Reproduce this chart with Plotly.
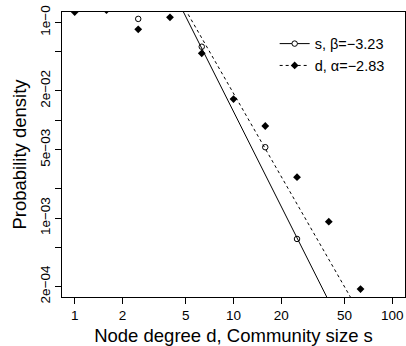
import numpy as np
import plotly.graph_objects as go

# Data (log-binned densities)
bins_d = [1.0, 1.585, 2.512, 3.981, 6.310, 10.0, 15.85, 25.12, 39.81, 63.10]
dens_d = [0.128, 0.134, 0.0853, 0.113, 0.0485, 0.0165, 0.00875, 0.00262, 0.00092, 0.000188]
bins_s = [2.512, 6.310, 15.85, 25.12]
dens_s = [0.109, 0.0566, 0.00531, 0.000612]

# Power-law fits: log10(p) = a + k*log10(x)
fit_s_k, fit_s_a = -3.23, 1.32
fit_d_k, fit_d_a = -2.83, 1.106
fit_x = [0.5, 200.0]

x_ticks = [1, 2, 5, 10, 20, 50, 100]
y_ticks = [1e-1, 5e-2, 2e-2, 1e-2, 5e-3, 2e-3, 1e-3, 5e-4, 2e-4]
y_ticktext = ["1e\u22120", "", "2e\u221202", "", "5e\u221203", "", "1e\u221203", "", "2e\u221204"]

FONT = "Liberation Sans, Arial, Helvetica, sans-serif"

def fit_line(k, a):
    xs = np.array(fit_x)
    return xs, 10 ** (a + k * np.log10(xs))

fig = go.Figure()
xs, ys = fit_line(fit_s_k, fit_s_a)
fig.add_trace(go.Scatter(x=xs, y=ys, mode="lines", line=dict(color="black", width=1),
                         showlegend=False, hoverinfo="skip"))
xs, ys = fit_line(fit_d_k, fit_d_a)
fig.add_trace(go.Scatter(x=xs, y=ys, mode="lines", line=dict(color="black", width=1, dash="3px,3px"),
                         showlegend=False, hoverinfo="skip"))

fig.add_trace(go.Scatter(x=bins_s, y=dens_s, mode="markers",
                         marker=dict(symbol="circle-open", size=5.5, color="black", line=dict(width=1)),
                         showlegend=False))
fig.add_trace(go.Scatter(x=bins_d, y=dens_d, mode="markers",
                         marker=dict(symbol="diamond", size=6, color="black"),
                         showlegend=False))

# legend entries
fig.add_trace(go.Scatter(x=[None], y=[None], mode="lines+markers", name="s, \u03b2=\u22123.23",
                         line=dict(color="black", width=1),
                         marker=dict(symbol="circle", size=5.5, color="white", line=dict(width=1, color="black"))))
fig.add_trace(go.Scatter(x=[None], y=[None], mode="lines+markers", name="d, \u03b1=\u22122.83",
                         line=dict(color="black", width=1, dash="3px,3px"),
                         marker=dict(symbol="diamond", size=6, color="black")))

fig.update_layout(
    width=406, height=346,
    margin=dict(l=62, r=1, t=12, b=49),
    paper_bgcolor="white", plot_bgcolor="white",
    font=dict(family=FONT, color="black", size=13.5),
    showlegend=True,
    legend=dict(x=0.62, y=0.945, xanchor="left", yanchor="top", bgcolor="rgba(0,0,0,0)",
                borderwidth=0, font=dict(size=14.5), tracegroupgap=0),
    xaxis=dict(type="log", range=[-0.08, 2.08], tickvals=x_ticks, ticktext=[str(v) for v in x_ticks],
               ticks="outside", ticklen=6, tickcolor="black", showline=True, mirror=True,
               linecolor="black", linewidth=1, showgrid=False, zeroline=False,
               tickfont=dict(size=13.5),
               title=dict(text="Node degree d, Community size s", font=dict(size=18.5), standoff=6)),
    yaxis=dict(type="log", range=[np.log10(2e-4) - 0.108, -1 + 0.108], tickvals=y_ticks, ticktext=y_ticktext,
               tickangle=-90, ticks="outside", ticklen=6, tickcolor="black", showline=True, mirror=True,
               linecolor="black", linewidth=1, showgrid=False, zeroline=False,
               tickfont=dict(size=13.5),
               title=dict(text="Probability density", font=dict(size=18.5), standoff=6)),
)

fig.write_html("out.html")
